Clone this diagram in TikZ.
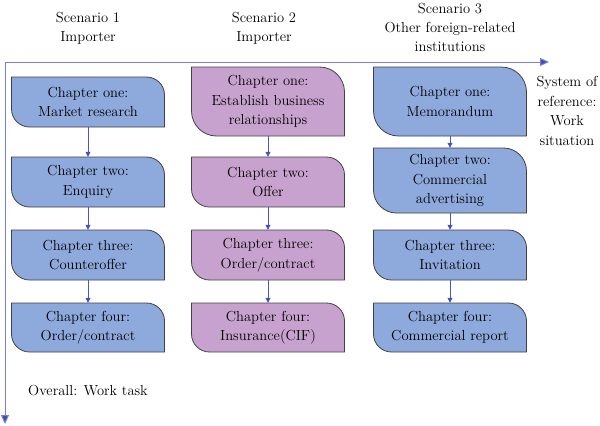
\documentclass[tikz,border=0pt]{standalone}
\usetikzlibrary{arrows.meta}
\definecolor{boxblue}{RGB}{142,169,219}
\definecolor{boxpurple}{RGB}{200,162,206}
\definecolor{edgegray}{RGB}{64,64,72}
\definecolor{axisblue}{RGB}{118,128,212}
\definecolor{tipblue}{RGB}{60,76,180}
\definecolor{linkblue}{RGB}{72,88,192}
\tikzset{
  boxedge/.style={draw=edgegray, line width=0.8bp},
  boxtext/.style={font=\fontsize{14.6}{19.5}\selectfont, align=center, inner sep=0pt, minimum width=153bp},
  lbl/.style={font=\fontsize{14.6}{19.5}\selectfont, align=center, inner sep=0pt},
  link/.style={draw=linkblue, line width=0.8bp, -{Triangle[length=5bp,width=5bp,fill=tipblue]}},
  axisline/.style={draw=axisblue, line width=1bp, -{Triangle[length=9bp,width=8bp,fill=tipblue]}},
}
\newcommand\chapbox[7]{%
  \draw[boxedge, fill=#5] (#2-76.5,#3) -- (#2+76.5-#6,#3)
    arc[start angle=-90,end angle=0,radius=#6] -- (#2+76.5,#4) -- (#2-76.5+#6,#4)
    arc[start angle=90,end angle=180,radius=#6] -- cycle;
  \node[boxtext, minimum height={(#4-#3)*1bp}] (#1) at (#2,{(#3+#4)/2}) {#7};
}
\begin{document}
\begin{tikzpicture}[x=1bp,y=-1bp]
\useasboundingbox (0,0) rectangle (600,425);
% titles
\node[lbl] (s1) at (88,28) {Scenario 1\\Importer};
\node[lbl] (s2) at (264,28) {Scenario 2\\Importer};
\node[lbl] (s3) at (450,27.5) {Scenario 3\\Other foreign-related\\institutions};
\node[lbl] (sys) at (567,111) {System of\\reference:\\Work\\situation};
\node[lbl, anchor=west] (overall) at (28,391) {Overall: Work task};
% axes
\coordinate (O) at (5,62);
\coordinate (XE) at (549,62);
\coordinate (YE) at (5,424);
\draw[axisline] (O) -- (XE);
\draw[axisline] (O) -- (YE);
% column 1
\chapbox{a1}{88}{77}{127}{boxblue}{18}{Chapter one:\\Market research}
\chapbox{a2}{88}{157}{207}{boxblue}{18}{Chapter two:\\Enquiry}
\chapbox{a3}{88}{230}{280}{boxblue}{18}{Chapter three:\\Counteroffer}
\chapbox{a4}{88}{303}{352}{boxblue}{18}{Chapter four:\\Order/contract}
% column 2
\chapbox{b1}{268}{67}{136}{boxpurple}{25}{Chapter one:\\Establish business\\relationships}
\chapbox{b2}{268}{157}{207}{boxpurple}{18}{Chapter two:\\Offer}
\chapbox{b3}{268}{230}{280}{boxpurple}{18}{Chapter three:\\Order/contract}
\chapbox{b4}{268}{303}{352}{boxpurple}{18}{Chapter four:\\Insurance(CIF)}
% column 3
\chapbox{c1}{450}{67}{136}{boxblue}{25}{Chapter one:\\Memorandum}
\chapbox{c2}{450}{148}{213}{boxblue}{23}{Chapter two:\\Commercial\\advertising}
\chapbox{c3}{450}{230}{280}{boxblue}{18}{Chapter three:\\Invitation}
\chapbox{c4}{450}{303}{352}{boxblue}{18}{Chapter four:\\Commercial report}
% connectors
\draw[link] (a1) -- (a2);
\draw[link] (a2) -- (a3);
\draw[link] (a3) -- (a4);
\draw[link] (b1) -- (b2);
\draw[link] (b2) -- (b3);
\draw[link] (b3) -- (b4);
\draw[link] (c1) -- (c2);
\draw[link] (c2) -- (c3);
\draw[link] (c3) -- (c4);
\end{tikzpicture}
\end{document}
